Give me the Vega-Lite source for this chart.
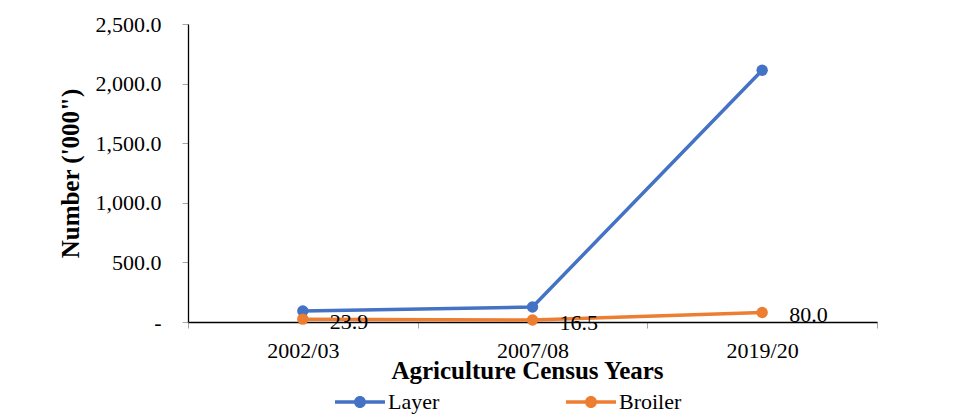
{
  "$schema": "https://vega.github.io/schema/vega-lite/v6.json",
  "width": 689,
  "height": 298,
  "autosize": {"type": "none"},
  "padding": {"left": 188, "top": 24, "right": 93, "bottom": 93},
  "background": "white",
  "config": {
    "font": "Liberation Serif",
    "view": {"stroke": null},
    "axis": {"grid": false, "labelFont": "Liberation Serif", "titleFont": "Liberation Serif"},
    "legend": {"labelFont": "Liberation Serif", "titleFont": "Liberation Serif"},
    "text": {"font": "Liberation Serif"}
  },
  "data": {"values": [
    {"year": "2002/03", "series": "Layer", "value": 92},
    {"year": "2007/08", "series": "Layer", "value": 126},
    {"year": "2019/20", "series": "Layer", "value": 2112},
    {"year": "2002/03", "series": "Broiler", "value": 23.9},
    {"year": "2007/08", "series": "Broiler", "value": 16.5},
    {"year": "2019/20", "series": "Broiler", "value": 80.0}
  ]},
  "encoding": {
    "x": {
      "field": "year", "type": "nominal", "bandPosition": 0.5,
      "scale": {"type": "band", "paddingInner": 0, "paddingOuter": 0},
      "axis": {
        "title": "Agriculture Census Years", "titleFont": "Liberation Serif", "titleFontSize": 25, "titleFontWeight": "bold", "titleColor": "black",
        "titleX": 339, "titleY": 56, "titleBaseline": "alphabetic",
        "labelAngle": 0, "labelFont": "Liberation Serif", "labelFontSize": 22, "labelColor": "black", "labelPadding": 12,
        "tickSize": 6, "tickColor": "#a6a6a6", "tickBand": "extent",
        "domainColor": "black", "domainWidth": 1.3, "domainOpacity": 1
      }
    },
    "y": {
      "field": "value", "type": "quantitative",
      "scale": {"domain": [0, 2500], "nice": false},
      "axis": {
        "values": [0, 500, 1000, 1500, 2000, 2500],
        "labelExpr": "datum.value == 0 ? '-\u00a0\u00a0' : format(datum.value, ',.1f')",
        "labelFont": "Liberation Serif", "labelFontSize": 22, "labelColor": "black", "labelPadding": 21,
        "tickSize": 6, "tickColor": "#a6a6a6", "domainColor": "black", "domainWidth": 1.3, "domainOpacity": 1,
        "title": "Number ('000\")", "titleFont": "Liberation Serif", "titleFontSize": 25, "titleFontWeight": "bold", "titleColor": "black",
        "titleX": -118, "titleY": 149, "titleBaseline": "middle", "titleAngle": -90
      }
    }
  },
  "layer": [
    {
      "mark": {"type": "line", "strokeWidth": 3.5},
      "encoding": {
        "color": {
          "field": "series", "type": "nominal",
          "scale": {"domain": ["Layer", "Broiler"], "range": ["#4472C4", "#ED7D31"]},
          "legend": {
            "orient": "none", "direction": "horizontal", "legendX": 147, "legendY": 353, "title": null,
            "symbolType": "M-1,-0.07L1,-0.07L1,0.07L-1,0.07Z M-0.24,0A0.24,0.24 0 1,1 0.24,0A0.24,0.24 0 1,1 -0.24,0Z",
            "symbolSize": 2500, "symbolStrokeWidth": 0,
            "labelFontSize": 22, "labelFont": "Liberation Serif", "labelColor": "black", "labelOffset": 3,
            "columnPadding": 126, "padding": 0,
            "encode": {"symbols": {"update": {"fill": {"scale": "color", "field": "value"}, "strokeWidth": {"value": 0}}}}
          }
        }
      }
    },
    {
      "mark": {"type": "point", "filled": true, "size": 130, "opacity": 1},
      "encoding": {
        "color": {
          "field": "series", "type": "nominal",
          "scale": {"domain": ["Layer", "Broiler"], "range": ["#4472C4", "#ED7D31"]},
          "legend": {
            "orient": "none", "direction": "horizontal", "legendX": 147, "legendY": 353, "title": null,
            "symbolType": "M-1,-0.07L1,-0.07L1,0.07L-1,0.07Z M-0.24,0A0.24,0.24 0 1,1 0.24,0A0.24,0.24 0 1,1 -0.24,0Z",
            "symbolSize": 2500, "symbolStrokeWidth": 0,
            "labelFontSize": 22, "labelFont": "Liberation Serif", "labelColor": "black", "labelOffset": 3,
            "columnPadding": 126, "padding": 0,
            "encode": {"symbols": {"update": {"fill": {"scale": "color", "field": "value"}, "strokeWidth": {"value": 0}}}}
          }
        }
      }
    },
    {
      "transform": [{"filter": "datum.series == 'Broiler'"}],
      "mark": {"type": "text", "align": "left", "baseline": "middle", "dx": 27, "dy": 3, "fontSize": 22, "font": "Liberation Serif", "color": "black"},
      "encoding": {"text": {"field": "value", "type": "quantitative", "format": ".1f"}}
    }
  ]
}
